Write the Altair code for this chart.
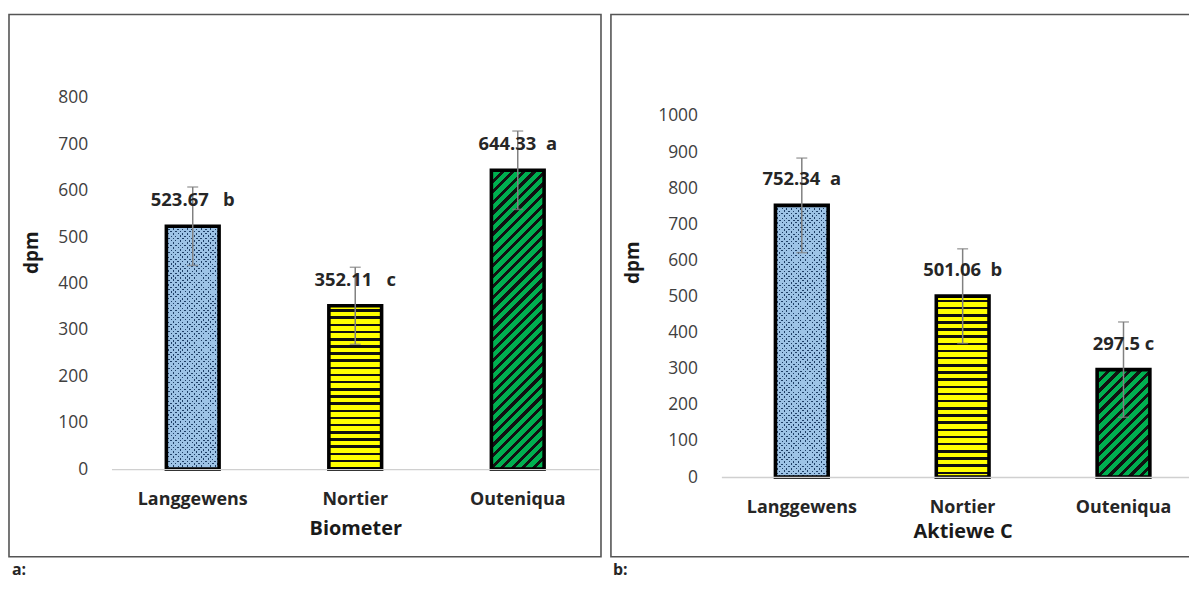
import math
import altair as alt
import pandas as pd

# ---------------- data ----------------
categories = ["Langgewens", "Nortier", "Outeniqua"]

bio_values = [523.67, 352.11, 644.33]
bio_errors = [84.5, 83.0, 84.5]
bio_letters = ["b", "c", "a"]
bio_gaps = [3, 3, 2]
bio_ticks = [0, 100, 200, 300, 400, 500, 600, 700, 800]

akt_values = [752.34, 501.06, 297.5]
akt_errors = [131.0, 131.0, 132.0]
akt_letters = ["a", "b", "c"]
akt_gaps = [2, 2, 1]
akt_ticks = [0, 100, 200, 300, 400, 500, 600, 700, 800, 900, 1000]

FONT = "Open Sans"
BLUE = "#9DC3E6"
NAVY = "#1F3F66"
YELLOW = "#FFFF00"
GREEN = "#00B050"
BAR_W = 53


def stripes(kind, w, h, period, thick, bg, fg, phase=0.0):
    if kind == "h":
        x1, y1, x2, y2 = 0, 0, 0, 1
        total = h
    elif kind == "up":
        k = (w + h) / (w * w + h * h)
        x1, y1, x2, y2 = 0, 0, w * k, h * k
        total = (w + h) / math.sqrt(2)
    else:
        k = (w + h) / (w * w + h * h)
        x1, y1, x2, y2 = 0, 1, w * k, 1 - h * k
        total = (w + h) / math.sqrt(2)
    stops = [{"offset": 0, "color": bg}]
    s = phase
    while s < total:
        a = round(max(s, 0) / total, 5)
        b = round(min(s + thick, total) / total, 5)
        stops += [{"offset": a, "color": bg}, {"offset": a, "color": fg},
                  {"offset": b, "color": fg}, {"offset": b, "color": bg}]
        s += period
    stops.append({"offset": 1, "color": bg})
    return {"gradient": "linear", "x1": round(x1, 5), "y1": round(y1, 5),
            "x2": round(x2, 5), "y2": round(y2, 5), "stops": stops}


def panel(values, errors, letters, gaps, ticks, ymax, width, height,
          xtitle, title_y, dpm_x, dpm_y, frame, tag, tag_x, tag_y):
    df = pd.DataFrame({
        "cat": categories,
        "val": values,
        "lo": [v - e for v, e in zip(values, errors)],
        "hi": [v + e for v, e in zip(values, errors)],
        "label": [f"{v}" + "\u00a0" * g + l for v, l, g in zip(values, letters, gaps)],
    })

    xenc = alt.X(
        "cat:N", sort=categories, title=xtitle,
        scale=alt.Scale(paddingInner=0, paddingOuter=0),
        axis=alt.Axis(labelAngle=0, labelFont=FONT, labelFontSize=18,
                      labelFontWeight="bold", labelColor="#262626",
                      labelPadding=31, labelBaseline="middle",
                      ticks=False, tickSize=0, domainColor="#D0D0D0",
                      domainWidth=1.5, grid=False, zindex=1,
                      titleFont=FONT, titleFontSize=20, titleFontWeight="bold",
                      titleColor="#1a1a1a", titleY=title_y,
                      titleBaseline="middle"),
    )
    yscale = alt.Scale(domain=[0, ymax], nice=False, zero=True)
    yaxis = alt.Axis(values=ticks, format="d", labelFont=FONT, labelFontSize=17.5,
                     labelColor="#404040", labelPadding=24, ticks=False,
                     tickSize=0, domain=False, grid=False, labelOverlap=False,
                     titleFont=FONT, titleFontSize=19, titleFontWeight="bold",
                     titleColor="#1a1a1a", titleAngle=270, titleAlign="center",
                     titleBaseline="middle", titleX=dpm_x, titleY=dpm_y)

    def Y(field):
        return alt.Y(field, title="dpm", scale=yscale, axis=yaxis)

    base = alt.Chart(df)
    layers = []

    one = alt.Data(values=[{"k": 0}])
    fx1, fx2, fy1, fy2 = frame
    layers.append(
        alt.Chart(one).mark_rect(fillOpacity=0, stroke="#555555", strokeWidth=1.6)
        .encode(x=alt.value(fx1), x2=alt.value(fx2), y=alt.value(fy1), y2=alt.value(fy2))
    )

    for i, cat in enumerate(categories):
        h = values[i] / ymax * height
        sub = base.transform_filter(alt.datum.cat == cat)
        if i == 0:
            g1 = stripes("up", BAR_W, h, 3.3, 1.3, BLUE, NAVY)
            g2 = stripes("down", BAR_W, h, 3.3, 1.3, BLUE, "rgba(157,195,230,0)")
            layers.append(sub.mark_bar(width=BAR_W, fill=g1, strokeWidth=0)
                          .encode(x=xenc, y=Y("val:Q")))
            layers.append(sub.mark_bar(width=BAR_W, fill=g2, stroke="black",
                                       strokeWidth=3.6)
                          .encode(x=xenc, y=Y("val:Q")))
        elif i == 1:
            g = stripes("h", BAR_W, h, 7.2, 2.6, YELLOW, "#111111", phase=3.5)
            layers.append(sub.mark_bar(width=BAR_W, fill=g, stroke="black",
                                       strokeWidth=3.6)
                          .encode(x=xenc, y=Y("val:Q")))
        else:
            g = stripes("up", BAR_W, h, 7.5, 3.0, GREEN, "#111111")
            layers.append(sub.mark_bar(width=BAR_W, fill=g, stroke="black",
                                       strokeWidth=3.6)
                          .encode(x=xenc, y=Y("val:Q")))

    layers.append(base.mark_rule(color="#808080", strokeWidth=1.5)
                  .encode(x=xenc, y=Y("lo:Q"), y2="hi:Q"))
    layers.append(base.mark_tick(color="#808080", thickness=1.5, size=11)
                  .encode(x=xenc, y=Y("hi:Q")))
    layers.append(base.mark_tick(color="#808080", thickness=1.5, size=11)
                  .encode(x=xenc, y=Y("lo:Q")))
    layers.append(base.mark_text(font=FONT, fontSize=18.5, fontWeight="bold",
                                 color="#262626", dy=-26, baseline="middle")
                  .encode(x=xenc, y=Y("val:Q"), text="label:N"))
    layers.append(alt.Chart(one).mark_text(font=FONT, fontSize=16, fontWeight="bold",
                                           color="#262626", align="left",
                                           baseline="middle")
                  .encode(x=alt.value(tag_x), y=alt.value(tag_y), text=alt.value(tag)))

    return alt.layer(*layers).properties(width=width, height=height)


# plot areas: left at page (112, 97), right at page (725, 97)
left = panel(bio_values, bio_errors, bio_letters, bio_gaps, bio_ticks,
             800, 490, 373, "Biometer", 60, -80, 155,
             (-103, 492, -84, 461), "a:", -100, 474)
right = panel(akt_values, akt_errors, akt_letters, akt_gaps, akt_ticks,
              1049.59, 485, 381, "Aktiewe C", 55, -89, 165,
              (-111, 500, -84, 461), "b:", -109, 474)

chart = (
    alt.hconcat(left, right, spacing=123, bounds="flush")
    .properties(autosize=alt.AutoSizeParams(type="none"),
                padding={"left": 104, "top": 89, "right": 1083, "bottom": 489},
                background="white")
    .configure_view(stroke=None)
)

chart.save("out.html", embed_options={"renderer": "svg", "actions": False})
